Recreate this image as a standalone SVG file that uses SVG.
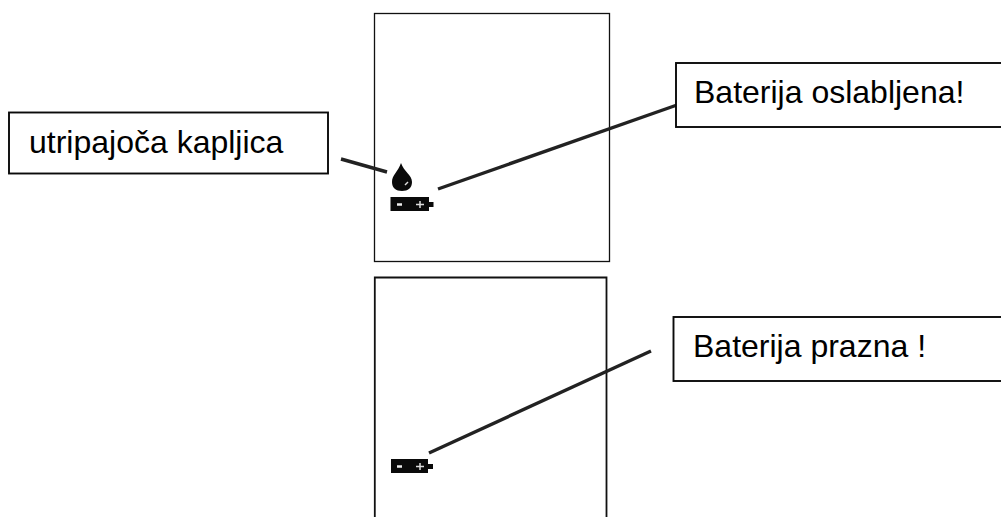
<svg xmlns="http://www.w3.org/2000/svg" width="1001" height="517" viewBox="0 0 1001 517">
<style>
.b{fill:#fff;stroke:#111;stroke-width:1.300}
.c{fill:#fff;stroke:#0a0a0a;stroke-width:1.900}
.l{fill:none;stroke:#222;stroke-width:3.400}
.t{font-family:"Liberation Sans",Arial,sans-serif;font-size:32px;fill:#000}
.k{fill:#0a0a0a}
.w{stroke:#ddd;stroke-width:1.500;fill:none}
.m{stroke:#eee;stroke-width:2.500;fill:none}
</style>
<rect width="1001" height="517" fill="#fff"/>
<g id="panel-top"><rect class="b" x="374.500" y="13.500" width="235" height="248"/></g>
<g id="panel-bottom"><path class="b" style="stroke-width:1.800" d="M374.800 517V277.500H606.500V517"/></g>
<g id="connectors">
<path class="l" d="M341 159L387 172"/>
<path class="l" d="M438 189L677 105"/>
<path class="l" d="M429 453L651 351"/>
</g>
<g id="label-kapljica"><rect class="c" x="9" y="112.500" width="319" height="61"/><text class="t" x="29" y="153">utripajoča kapljica</text></g>
<g id="label-oslabljena"><rect class="c" x="676" y="63" width="330" height="64"/><text class="t" x="694" y="103">Baterija oslabljena!</text></g>
<g id="label-prazna"><rect class="c" x="673.500" y="317" width="330" height="64"/><text class="t" x="693" y="357">Baterija prazna !</text></g>
<g id="icon-drop"><path class="k" d="M401 163C398 172 392 175 392 182C392 188 396 191 402 191C408 191 412 188 412 182C412 175 404 172 401 163Z"/><path class="w" d="M405 185L408 182"/></g>
<g id="icon-battery-top"><rect class="k" x="390.500" y="197" width="38.500" height="14"/><rect class="k" x="429" y="202" width="4.500" height="5"/><path class="m" d="M397 204.500H402"/><path class="w" d="M416 204.500H424M420 201V208"/></g>
<g id="icon-battery-bottom"><rect class="k" x="391" y="459" width="37" height="14"/><rect class="k" x="428" y="464" width="5" height="5"/><path class="m" d="M397 466.500H402"/><path class="w" d="M416 466.500H424M420 463V470"/></g>
</svg>
